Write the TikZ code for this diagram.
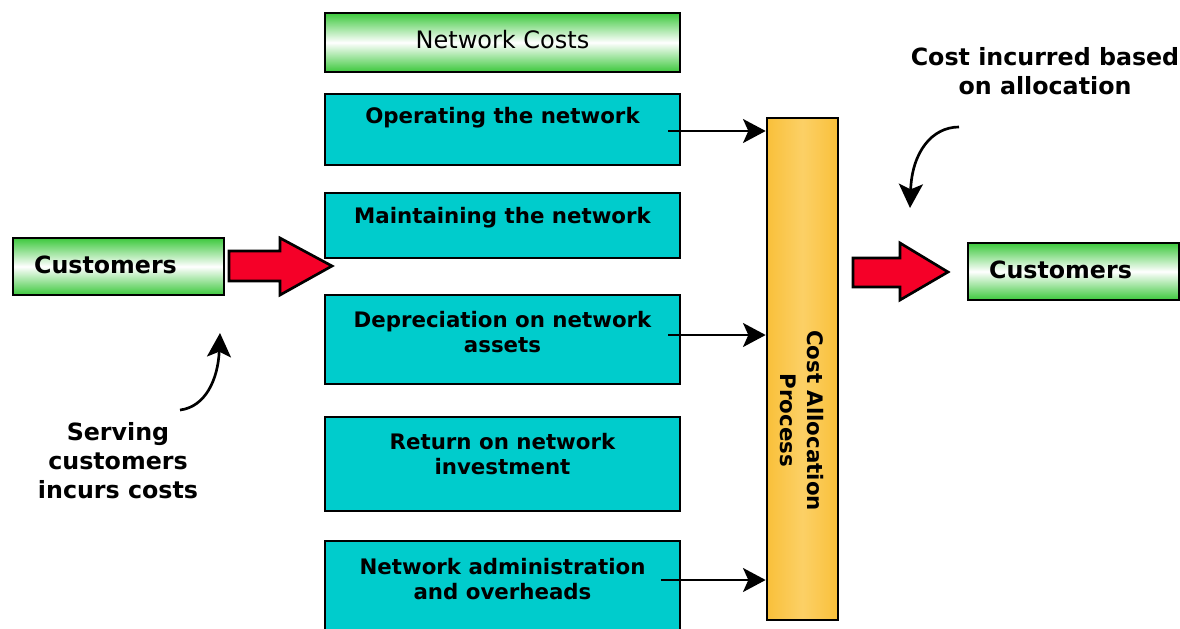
\documentclass[tikz,border=0pt]{standalone}
\usepackage{fontspec}
\setmainfont{DejaVu Sans}
\usetikzlibrary{arrows.meta}
\definecolor{cgreen}{HTML}{3CC83C}
\definecolor{cteal}{HTML}{00CCCC}
\definecolor{cred}{HTML}{F50028}
\definecolor{corange}{HTML}{F9C03A}
\definecolor{corangelight}{HTML}{FCD066}
\tikzset{
  greenbox/.style={draw=black, line width=2pt, top color=cgreen, bottom color=cgreen, middle color=white, inner sep=0pt},
  costbox/.style={draw=black, line width=2pt, fill=cteal, minimum width=266.25pt, inner sep=0pt},
  boxtext/.style={font=\bfseries\fontsize{16}{18.75}\selectfont, align=center, inner sep=0pt},
  bigtext/.style={font=\bfseries\fontsize{17.8}{21.6}\selectfont, align=center, inner sep=0pt},
  flowline/.style={-{Stealth[length=17pt,width=18pt,inset=4pt]}, line width=1.6pt},
  bendline/.style={-{Stealth[length=18pt,width=18pt,inset=4pt]}, line width=2pt},
  blockarrow/.style={draw=black, line width=2pt, fill=cred, line join=miter}
}
\begin{document}
\begin{tikzpicture}[x=0.75pt,y=-0.75pt]
\useasboundingbox (0,0) rectangle (1180,628);

% column of network cost boxes
\node[greenbox, minimum width=266.25pt, minimum height=44.25pt] (costs) at (502.5,42.5) {};
\node[inner sep=0pt, font=\fontsize{18}{21}\selectfont] (coststext) at (502.5,40) {Network Costs};
\node[costbox, minimum height=53.25pt] (op) at (502.5,129.5) {};
\node[boxtext] (optext) at (502.5,118) {Operating the network};
\node[costbox, minimum height=48.75pt] (maint) at (502.5,225.5) {};
\node[boxtext] (mainttext) at (502.5,218) {Maintaining the network};
\node[costbox, minimum height=66.75pt] (dep) at (502.5,339.5) {};
\node[boxtext] (deptext) at (502.5,332.5) {Depreciation on network\\assets};
\node[costbox, minimum height=70.5pt] (ret) at (502.5,464) {};
\node[boxtext] (rettext) at (502.5,454.5) {Return on network\\investment};
\node[costbox, minimum height=74.25pt] (adm) at (502.5,590.5) {};
\node[boxtext] (admtext) at (502.5,579) {Network administration\\and overheads};

% allocation bar
\node[draw=black, line width=2pt, left color=corange, right color=corange, middle color=corangelight,
      minimum width=53.25pt, minimum height=376.5pt, inner sep=0pt] (alloc) at (802.5,369) {};
\node[boxtext, font=\bfseries\fontsize{16}{20.25}\selectfont, rotate=-90] (alloctext) at (801.5,420.5) {Cost Allocation\\Process};

% customers on both sides
\node[greenbox, minimum width=158.25pt, minimum height=42.75pt] (custL) at (118.5,266.5) {};
\node[bigtext] (custLtext) at (105.5,265) {Customers};
\node[greenbox, minimum width=158.25pt, minimum height=42.75pt] (custR) at (1073.5,271.5) {};
\node[bigtext] (custRtext) at (1060.5,270) {Customers};

% flows into the allocation process
\coordinate (opout) at (668,131);
\coordinate (depout) at (668,335);
\coordinate (admout) at (661,580);
\draw[flowline] (opout) -- (opout -| alloc.west);
\draw[flowline] (depout) -- (depout -| alloc.west);
\draw[flowline] (admout) -- (admout -| alloc.west);

% block arrows
\draw[blockarrow] (229,251) -- (280,251) -- (280,238) -- (332,266) -- (280,295) -- (280,281) -- (229,281) -- cycle;
\draw[blockarrow] (853,258) -- (900,258) -- (900,243) -- (948,272) -- (900,300) -- (900,287) -- (853,287) -- cycle;

% annotations
\node[bigtext] (incurred) at (1045,71.5) {Cost incurred based\\on allocation};
\coordinate (incA) at (959,127);
\coordinate (incB) at (910,208);
\draw[bendline] (incA) .. controls (932,127) and (912,152) .. (incB);

\node[bigtext] (serving) at (118,460.5) {Serving\\customers\\incurs costs};
\coordinate (srvA) at (180,410);
\coordinate (srvB) at (220,333);
\draw[bendline] (srvA) .. controls (205,407) and (218,380) .. (srvB);
\end{tikzpicture}
\end{document}
